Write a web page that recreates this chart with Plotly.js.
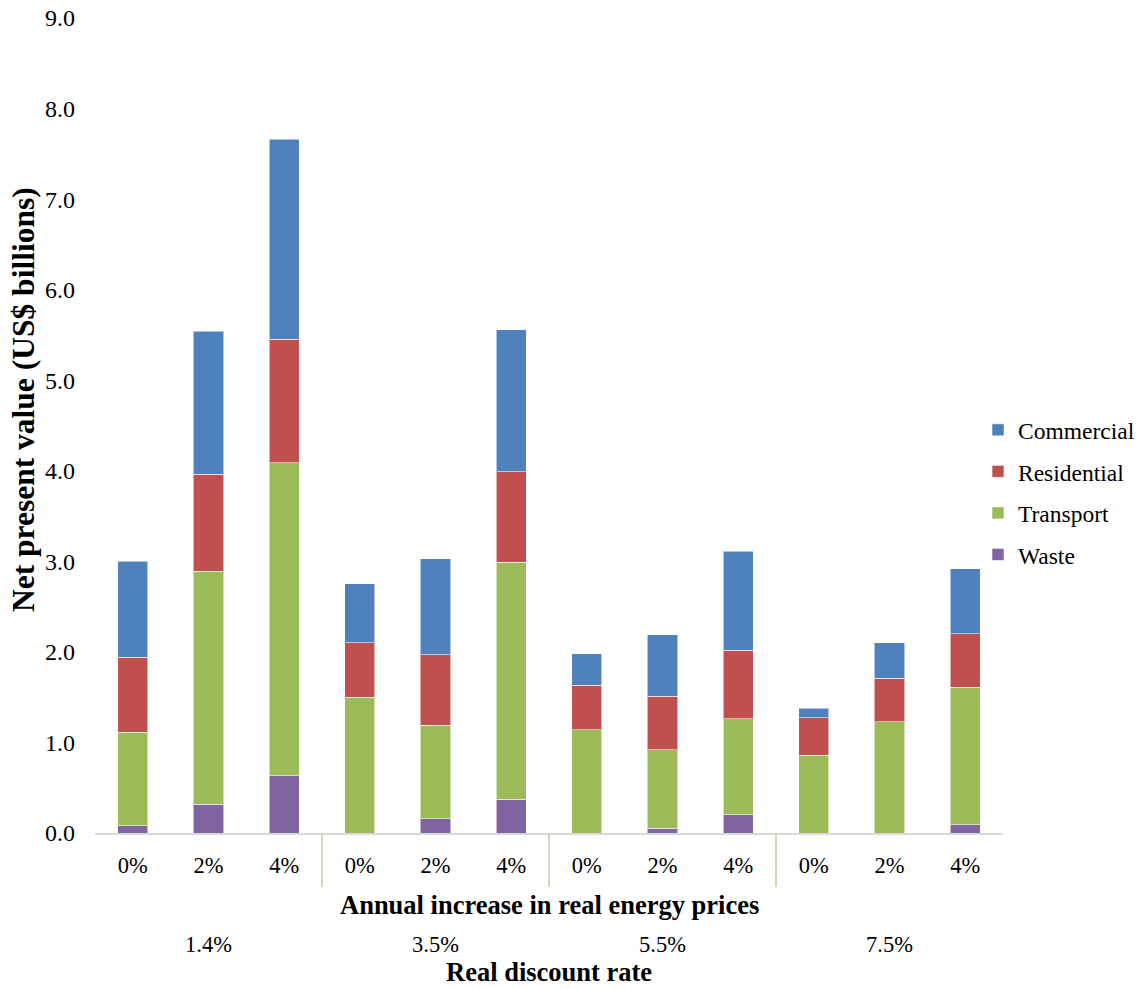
<!DOCTYPE html>
<html>
<head>
<meta charset="utf-8">
<script src="https://cdn.plot.ly/plotly-3.0.1.min.js"></script>
<style>
  html, body { margin: 0; padding: 0; background: #ffffff; }
  #chart { width: 1146px; height: 989px; }
</style>
</head>
<body>
<div id="chart"></div>
<script>
// ---- Data ----
const discountRates = ['1.4%', '3.5%', '5.5%', '7.5%'];
const energyIncreases = ['0%', '2%', '4%'];
const seriesNames = ['Waste', 'Transport', 'Residential', 'Commercial'];
const legendOrder = ['Commercial', 'Residential', 'Transport', 'Waste'];
const waste       = [0.08, 0.32, 0.63, 0.00, 0.16, 0.37, 0.00, 0.05, 0.20, 0.00, 0.00, 0.09];
const transport   = [1.03, 2.57, 3.46, 1.50, 1.03, 2.62, 1.14, 0.87, 1.06, 0.86, 1.23, 1.52];
const residential = [0.83, 1.07, 1.36, 0.60, 0.78, 1.00, 0.49, 0.59, 0.76, 0.41, 0.48, 0.59];
const commercial  = [1.06, 1.58, 2.21, 0.65, 1.06, 1.57, 0.35, 0.68, 1.09, 0.11, 0.39, 0.72];
const yTickValues = [0, 1, 2, 3, 4, 5, 6, 7, 8, 9];

// ---- Build categories ----
const catKeys = [];
const catLabels = [];
discountRates.forEach(r => energyIncreases.forEach(e => {
  catKeys.push(r + ' | ' + e);
  catLabels.push(e);
}));

const colors = {
  Waste: '#8064A2',
  Transport: '#9BBB59',
  Residential: '#C0504D',
  Commercial: '#4F81BD'
};
const seriesValues = { Waste: waste, Transport: transport, Residential: residential, Commercial: commercial };

const FONT = 'Liberation Serif';

const traces = seriesNames.map(name => ({
  type: 'bar',
  name: name,
  x: catKeys,
  y: seriesValues[name],
  legendgroup: name,
  legendrank: legendOrder.indexOf(name) + 1,
  marker: { color: colors[name], line: { color: 'rgba(255,255,255,0.55)', width: 1 } },
  hoverinfo: 'skip'
}));

// plot geometry (pixels) used for text placement
const W = 1146, H = 989;
const mL = 95, mR = 143, mT = 17.5, mB = 155.5;
const plotH = H - mT - mB;
const plotW = W - mL - mR;

// group labels & dividers
const n = energyIncreases.length;
const annotations = [];
discountRates.forEach((r, gi) => {
  annotations.push({
    xref: 'x', yref: 'paper',
    x: catKeys[gi * n + Math.floor(n / 2)], y: 0,
    text: r, showarrow: false,
    yanchor: 'middle', yshift: -111,
    font: { family: FONT, size: 22.5, color: '#000' }
  });
});
annotations.push({
  xref: 'paper', yref: 'paper', x: 0.5, y: 0,
  text: '<b>Annual increase in real energy prices</b>', showarrow: false,
  yanchor: 'middle', yshift: -72,
  font: { family: FONT, size: 26.5, color: '#000' }
});
annotations.push({
  xref: 'paper', yref: 'paper', x: 0.5, y: 0,
  text: '<b>Real discount rate</b>', showarrow: false,
  yanchor: 'middle', yshift: -139,
  font: { family: FONT, size: 26.5, color: '#000' }
});
// y-axis title
annotations.push({
  xref: 'paper', yref: 'paper', x: 0, y: (H - mB - 400) / plotH,
  xanchor: 'center', yanchor: 'middle', xshift: 23 - mL,
  textangle: -90,
  text: '<b>Net present value (US$ billions)</b>', showarrow: false,
  font: { family: FONT, size: 31.5, color: '#000' }
});

const shapes = [];
for (let gi = 1; gi < discountRates.length; gi++) {
  shapes.push({
    type: 'line', xref: 'x', yref: 'paper',
    x0: gi * n - 0.5, x1: gi * n - 0.5,
    y0: 0, y1: -54 / plotH,
    line: { color: '#d9d4be', width: 2 }
  });
}

const layout = {
  width: W,
  height: H,
  paper_bgcolor: '#ffffff',
  plot_bgcolor: '#ffffff',
  barmode: 'stack',
  bargap: 0.6,
  margin: { l: mL, r: mR, t: mT, b: mB, pad: 0, autoexpand: false },
  font: { family: FONT, color: '#000' },
  showlegend: true,
  legend: {
    xref: 'paper', yref: 'paper',
    x: (978 - mL) / plotW, xanchor: 'left',
    y: (H - mB - 408) / plotH, yanchor: 'top',
    traceorder: 'grouped',
    tracegroupgap: 8,
    font: { family: FONT, size: 23.5, color: '#000' },
    bgcolor: 'rgba(0,0,0,0)',
    borderwidth: 0
  },
  xaxis: {
    type: 'category',
    tickmode: 'array',
    tickvals: catKeys,
    ticktext: catLabels,
    tickfont: { family: FONT, size: 22.5, color: '#000' },
    ticks: '',
    ticklabelstandoff: 11,
    showgrid: false,
    showline: true,
    linecolor: '#d9d9d9',
    linewidth: 2,
    zeroline: false,
    fixedrange: true
  },
  yaxis: {
    range: [0, 9],
    tickmode: 'array',
    tickvals: yTickValues,
    tickformat: '.1f',
    tickfont: { family: FONT, size: 24, color: '#000' },
    ticks: '',
    ticklabelstandoff: 19,
    showgrid: false,
    showline: false,
    zeroline: false,
    fixedrange: true
  },
  annotations: annotations,
  shapes: shapes
};

Plotly.newPlot('chart', traces, layout, { displayModeBar: false, staticPlot: true });
</script>
</body>
</html>
